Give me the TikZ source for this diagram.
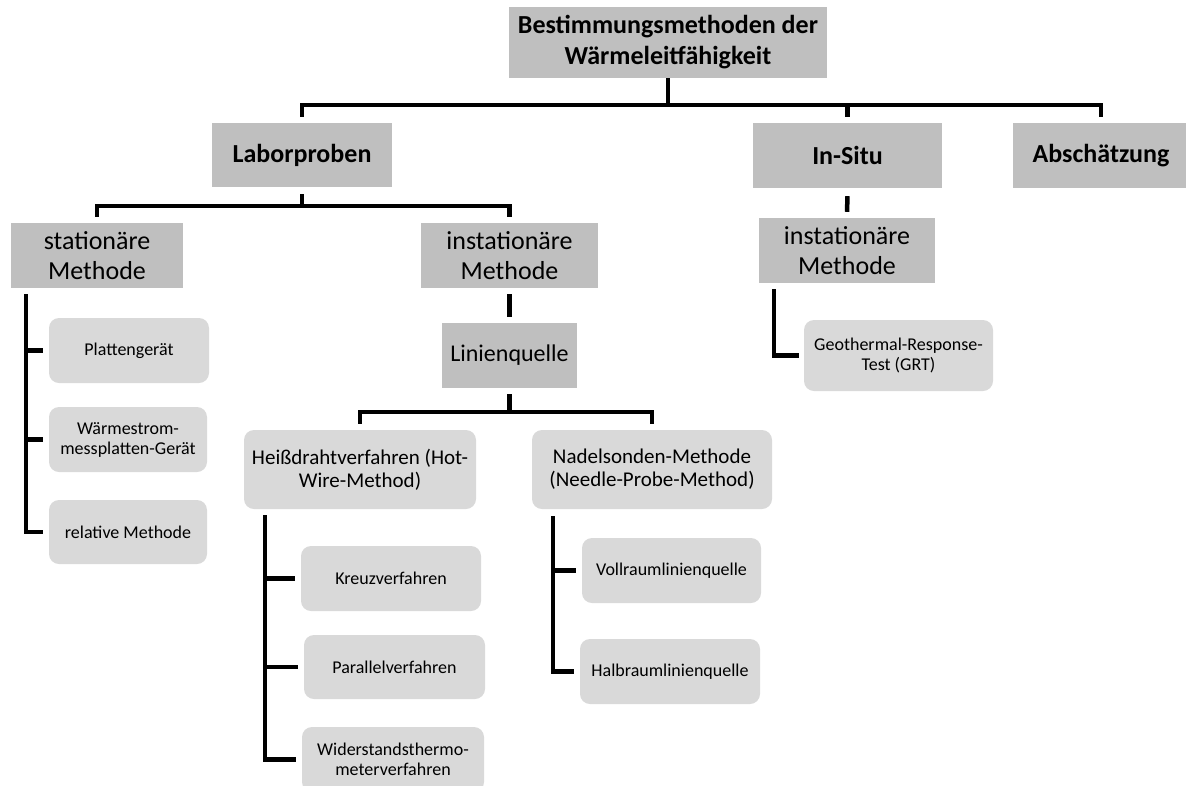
\documentclass[tikz,border=0pt]{standalone}
\usepackage{fontspec}
\setmainfont{Carlito}
\usepackage{tikz}
\definecolor{boxdunkel}{RGB}{191,191,191}
\definecolor{boxhell}{RGB}{217,217,217}

\begin{document}
\begin{tikzpicture}[x=1pt,y=-1pt,
	ebene/.style={fill=boxdunkel, inner sep=0pt, align=center},
	kopf/.style={ebene, font=\fontsize{26}{31}\selectfont\bfseries},
	methode/.style={ebene, font=\fontsize{26}{30}\selectfont},
	blatt/.style={fill=boxhell, rounded corners=10pt, inner sep=0pt, align=center, font=\fontsize{18}{20}\selectfont},
	zweig/.style={blatt, font=\fontsize{21}{23}\selectfont},
	linie/.style={line width=4.5pt}]
	\useasboundingbox (0,0) rectangle (1186,785);
	\node[kopf, minimum width=318pt, minimum height=71pt] (bestimmung) at (668,42.5) {Bestimmungsmethoden der\\Wärmeleitfähigkeit};
	\node[kopf, minimum width=180pt, minimum height=64pt] (labor) at (302,155) {Laborproben};
	\node[kopf, minimum width=189pt, minimum height=65pt] (insitu) at (847.5,155.5) {In-Situ};
	\node[kopf, minimum width=176pt, minimum height=65pt] (abschaetzung) at (1101,155.5) {Abschätzung};
	\node[methode, minimum width=172pt, minimum height=65pt] (stationaer) at (97,255.5) {stationäre\\Methode};
	\node[methode, minimum width=177pt, minimum height=65pt] (instatlabor) at (509.5,255.5) {instationäre\\Methode};
	\node[methode, minimum width=176pt, minimum height=65pt] (instatsitu) at (847,250.5) {instationäre\\Methode};
	\node[ebene, font=\fontsize{24}{28}\selectfont, minimum width=135pt, minimum height=65pt] (linienquelle) at (509.5,355.5) {Linienquelle};
	\node[blatt, minimum width=189pt, minimum height=71pt] (grt) at (898.5,355.5) {Geothermal-Response-\\Test (GRT)};
	\node[blatt, minimum width=160pt, minimum height=65pt] (platten) at (129,350.5) {Plattengerät};
	\node[blatt, minimum width=158pt, minimum height=65pt] (waermestrom) at (128,439.5) {Wärmestrom-\\messplatten-Gerät};
	\node[blatt, minimum width=158pt, minimum height=64pt] (relativ) at (128,532) {relative Methode};
	\node[zweig, minimum width=232pt, minimum height=79pt] (heissdraht) at (360,469.5) {Heißdrahtverfahren (Hot-\\Wire-Method)};
	\node[zweig, minimum width=240pt, minimum height=79pt] (nadelsonde) at (652,469.5) {Nadelsonden-Methode\\(Needle-Probe-Method)};
	\node[blatt, minimum width=180pt, minimum height=65pt] (kreuz) at (391,578.5) {Kreuzverfahren};
	\node[blatt, minimum width=181pt, minimum height=64pt] (parallel) at (394.5,667) {Parallelverfahren};
	\node[blatt, minimum width=182pt, minimum height=65pt] (widerstand) at (393,759.5) {Widerstandsthermo-\\meterverfahren};
	\node[blatt, minimum width=179pt, minimum height=65pt] (vollraum) at (671.5,570.5) {Vollraumlinienquelle};
	\node[blatt, minimum width=180pt, minimum height=65pt] (halbraum) at (670,671.5) {Halbraumlinienquelle};

	\coordinate (schiene1) at (0,105);
	\coordinate (schiene2) at (0,206);
	\coordinate (schiene3) at (0,412);
	\draw[linie] (bestimmung.south) -- (bestimmung.south |- schiene1);
	\draw[linie] ([yshift=6pt]labor.north) -- (labor.north |- schiene1) -- (abschaetzung.north |- schiene1) -- ([yshift=6pt]abschaetzung.north);
	\draw[linie] ([yshift=6pt]insitu.north) -- (insitu.north |- schiene1);
	\draw[linie] ([yshift=-7pt]labor.south) -- (labor.south |- schiene2);
	\draw[linie] ([yshift=6pt]stationaer.north) -- (stationaer.north |- schiene2) -- (instatlabor.north |- schiene2) -- ([yshift=6pt]instatlabor.north);
	\draw[linie] ([yshift=-6pt]instatlabor.south) -- ([yshift=6pt]linienquelle.north);
	\draw[linie] ([yshift=-8pt]insitu.south) -- ([yshift=6pt]instatsitu.north);
	\draw[linie] ([yshift=-6pt]linienquelle.south) -- (linienquelle.south |- schiene3);
	\draw[linie] ([yshift=6pt]heissdraht.north) -- (heissdraht.north |- schiene3) -- (nadelsonde.north |- schiene3) -- ([yshift=6pt]nadelsonde.north);

	\draw[linie] ([shift={(15,6)}]stationaer.south west) |- ([xshift=-6pt]relativ.west);
	\draw[linie] ([xshift=-6pt]platten.west) -- ++(-17,0);
	\draw[linie] ([xshift=-6pt]waermestrom.west) -- ++(-17,0);
	\draw[linie] ([shift={(15,6)}]instatsitu.south west) |- ([xshift=-5pt]grt.west);
	\draw[linie] ([shift={(21,6)}]heissdraht.south west) |- ([xshift=-6pt]widerstand.west);
	\draw[linie] ([xshift=-6pt]kreuz.west) -- ++(-30,0);
	\draw[linie] ([xshift=-6pt]parallel.west) -- ++(-33,0);
	\draw[linie] ([shift={(21,7)}]nadelsonde.south west) |- ([xshift=-6pt]halbraum.west);
	\draw[linie] ([xshift=-6pt]vollraum.west) -- ++(-23,0);
\end{tikzpicture}
\end{document}
